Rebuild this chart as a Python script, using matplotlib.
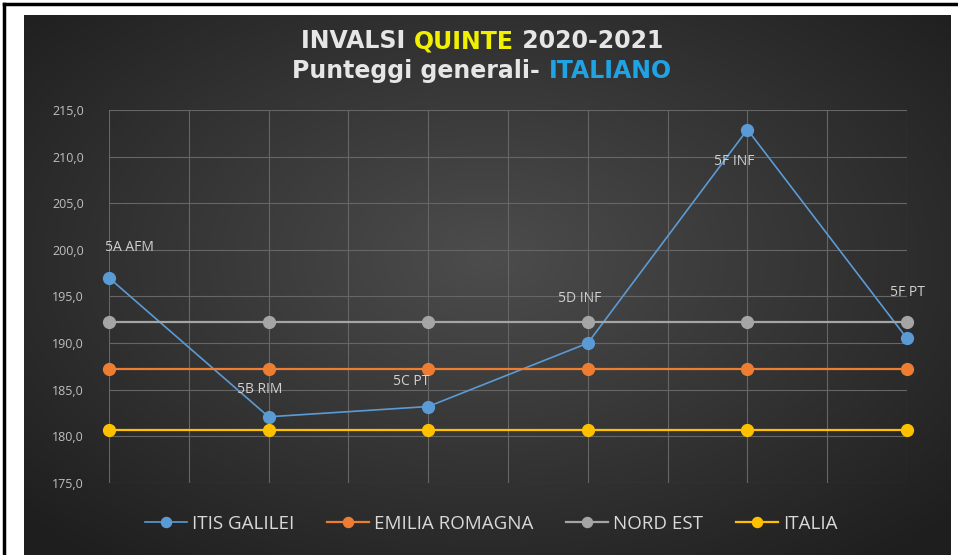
import numpy as np
import matplotlib.pyplot as plt
from matplotlib.offsetbox import TextArea, HPacker, AnchoredOffsetbox
from matplotlib.lines import Line2D

plt.rcParams['font.family'] = ['Open Sans', 'DejaVu Sans']

# data
classes = ['5A AFM', '5B RIM', '5C PT', '5D INF', '5F INF', '5F PT']
itis = [197.0, 182.1, 183.2, 190.0, 212.9, 190.5]
emilia = [187.2] * 6
nord_est = [192.3] * 6
italia = [180.7] * 6
series_names = ['ITIS GALILEI', 'EMILIA ROMAGNA', 'NORD EST', 'ITALIA']
yticks = [175, 180, 185, 190, 195, 200, 205, 210, 215]

colors = ['#5b9bd5', '#ed7d31', '#a5a5a5', '#ffc000']
W, H = 958, 555

fig = plt.figure(figsize=(W / 100, H / 100), dpi=100)
fig.patch.set_facecolor('white')

# dark chart background with radial gradient
bg = fig.add_axes([24 / W, 0, (951 - 24) / W, (H - 15) / H])
gx, gy = np.meshgrid(np.linspace(-1, 1, 400), np.linspace(-1, 1, 240))
r = np.clip(np.sqrt((gx * 0.95) ** 2 + ((gy + 0.1) * 0.9) ** 2), 0, 1.3)
val = 0.30 - 0.14 * r
img = np.dstack([val, val, val])
bg.imshow(img, aspect='auto', extent=[0, 1, 0, 1], interpolation='bilinear')
bg.set_axis_off()

# black outer frame
fig.add_artist(Line2D([4 / W, 4 / W], [0, 1 - 4 / H], color='black', lw=2.5))
fig.add_artist(Line2D([4 / W, 1], [1 - 4 / H, 1 - 4 / H], color='black', lw=2.5))

ax = fig.add_axes([109 / W, 72 / H, (907 - 109) / W, (483 - 110) / H])
ax.patch.set_alpha(0)
x = np.arange(len(classes))
widths = [1.2, 1.6, 1.6, 1.6]
for vals, c, name, lw in zip([itis, emilia, nord_est, italia], colors, series_names, widths):
    ax.plot(x, vals, color=c, lw=lw, marker='o', markersize=8.5,
            markeredgecolor=c, label=name, zorder=3, clip_on=False)

ax.set_xlim(0, 5)
ax.set_ylim(175, 215)
ax.set_yticks(yticks)
ax.set_yticklabels([f'{v:.1f}'.replace('.', ',') for v in yticks])
ax.set_xticks(np.arange(0, 5.01, 0.5))
ax.set_xticklabels([])
ax.tick_params(length=0, colors='#bfbfbf', labelsize=9, pad=18)
ax.grid(True, color='#666666', lw=0.8)
for s in ax.spines.values():
    s.set_visible(False)
ax.set_axisbelow(True)

# data labels
offsets = [(15, 22), (-6.5, 19.5), (-12, 18), (-6, 32), (-9.5, -23), (0, 33)]
for xi, yi, lab, (dx, dy) in zip(x, itis, classes, offsets):
    ax.annotate(lab, (xi, yi), xytext=(dx, dy), textcoords='offset points',
                ha='center', va='center', color='#d0d0d0', fontsize=10)

# title with coloured words
def title_line(parts, y):
    boxes = [TextArea(t, textprops=dict(color=c, fontsize=17, fontweight='bold',
                                        family='DejaVu Sans'))
             for t, c in parts]
    pack = HPacker(children=boxes, align='baseline', pad=0, sep=0)
    ab = AnchoredOffsetbox(loc='center', child=pack, frameon=False,
                           bbox_to_anchor=(482 / W, 1 - y / H),
                           bbox_transform=fig.transFigure, pad=0, borderpad=0)
    fig.add_artist(ab)

title_line([('INVALSI ', '#e6e6e6'), ('QUINTE', '#f0f000'), (' 2020-2021', '#e6e6e6')], 41)
title_line([('Punteggi generali- ', '#e6e6e6'), ('ITALIANO', '#1fa3e3')], 71)

leg = fig.legend(loc='center', bbox_to_anchor=(491 / W, 1 - 524 / H), ncol=4,
                 frameon=False, fontsize=13.5, labelcolor='#d9d9d9',
                 handlelength=2.24, columnspacing=1.75, handletextpad=0.27,
                 markerscale=0.85)

fig.savefig('out.png', dpi=100)
